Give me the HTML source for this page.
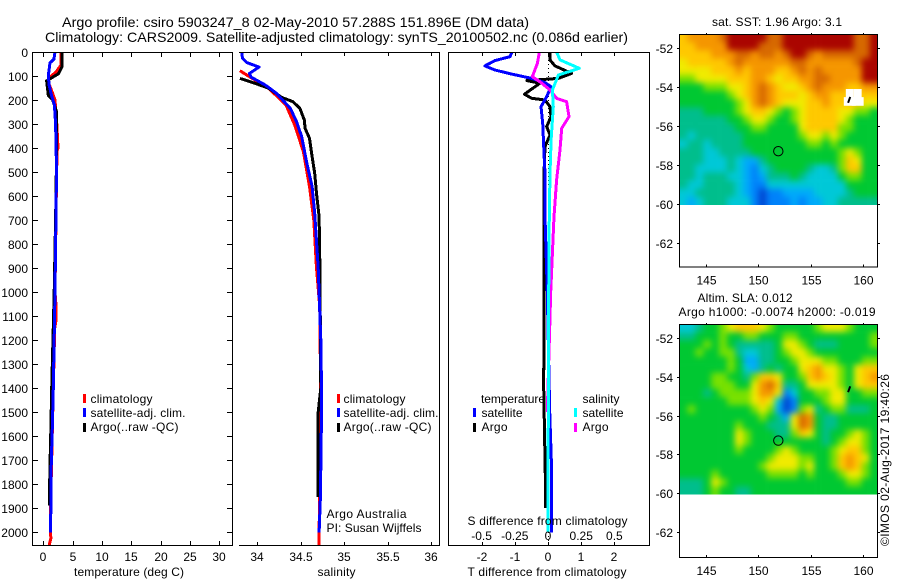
<!DOCTYPE html>
<html>
<head>
<meta charset="utf-8">
<title>Argo profile</title>
<style>
html,body{margin:0;padding:0;background:#fff;width:900px;height:580px;overflow:hidden}
svg{display:block}
text{font-family:"Liberation Sans",sans-serif;font-size:12px;fill:#000}
.ttl{font-size:14px}
</style>
</head>
<body>
<svg id="chart" xmlns="http://www.w3.org/2000/svg" width="900" height="580" viewBox="0 0 900 580">
  <defs>
    <filter id="soft" filterUnits="userSpaceOnUse" x="650" y="0" width="250" height="580" color-interpolation-filters="sRGB">
      <feGaussianBlur in="SourceGraphic" stdDeviation="3.2"/>
    </filter>
    <clipPath id="clip-sst"><rect x="679.5" y="34.5" width="198" height="170.5"/></clipPath>
    <clipPath id="clip-sla"><rect x="679.5" y="324.5" width="198" height="170"/></clipPath>
    <clipPath id="clip-p1"><rect x="33" y="52" width="199" height="493"/></clipPath>
    <clipPath id="clip-p2"><rect x="239" y="52" width="200" height="493"/></clipPath>
    <clipPath id="clip-p3"><rect x="449" y="52" width="200" height="493"/></clipPath>
  </defs>

  <text class="ttl" x="62" y="27" textLength="467" lengthAdjust="spacingAndGlyphs">Argo profile: csiro 5903247_8 02-May-2010 57.288S 151.896E (DM data)</text>
  <text class="ttl" x="45" y="42" textLength="583" lengthAdjust="spacingAndGlyphs">Climatology: CARS2009. Satellite-adjusted climatology: synTS_20100502.nc (0.086d earlier)</text>

  <g id="layer-p1"></g>
  <g id="layer-p2"></g>
  <g id="layer-p3"></g>
  <g id="layer-m1"></g>
  <g id="layer-m2"></g>

  <g>
    <rect x="83" y="394" width="3" height="9" fill="#f00"/>
    <rect x="83" y="408" width="3" height="9" fill="#00f"/>
    <rect x="83" y="423" width="3" height="9" fill="#000"/>
    <text x="90.5" y="403" textLength="62">climatology</text>
    <text x="90.5" y="417" textLength="95">satellite-adj. clim.</text>
    <text x="90.5" y="431" textLength="88">Argo(..raw -QC)</text>
  </g>
  <g>
    <rect x="337" y="394" width="3" height="9" fill="#f00"/>
    <rect x="337" y="408" width="3" height="9" fill="#00f"/>
    <rect x="337" y="423" width="3" height="9" fill="#000"/>
    <text x="343.5" y="403" textLength="62">climatology</text>
    <text x="343.5" y="417" textLength="95">satellite-adj. clim.</text>
    <text x="343.5" y="431" textLength="88">Argo(..raw -QC)</text>
  </g>
  <g>
    <text x="481" y="403" textLength="64">temperature</text>
    <text x="582.5" y="403" textLength="37">salinity</text>
    <rect x="473" y="408" width="3" height="9" fill="#00f"/>
    <rect x="473" y="423" width="3" height="9" fill="#000"/>
    <rect x="574" y="408" width="3" height="9" fill="#0ff"/>
    <rect x="574" y="423" width="3" height="9" fill="#f0f"/>
    <text x="481.5" y="417" textLength="41">satellite</text>
    <text x="481.5" y="431" textLength="26">Argo</text>
    <text x="582.5" y="417" textLength="41">satellite</text>
    <text x="582.5" y="431" textLength="26">Argo</text>
  </g>

  <text x="326.5" y="518" textLength="80">Argo Australia</text>
  <text x="326.5" y="532" textLength="95">PI: Susan Wijffels</text>
  <text x="467.5" y="525" textLength="160">S difference from climatology</text>

  <text x="74" y="576" textLength="110">temperature (deg C)</text>
  <text x="317.5" y="576" textLength="38">salinity</text>
  <text x="467.5" y="576" textLength="159">T difference from climatology</text>

  <text x="712" y="26" textLength="130">sat. SST: 1.96 Argo: 3.1</text>
  <text x="697.5" y="302" textLength="95">Altim. SLA: 0.012</text>
  <text x="678.5" y="316" textLength="197">Argo h1000: -0.0074 h2000: -0.019</text>
  <text transform="translate(889,546) rotate(-90)" x="0" y="0" textLength="172">©IMOS 02-Aug-2017 19:40:26</text>
</svg>

<script>
/* ---------- axis tick values ---------- */
var depthTicks = [0,100,200,300,400,500,600,700,800,900,1000,1100,1200,1300,1400,1500,1600,1700,1800,1900,2000];
var tempTicks = [0,5,10,15,20,25,30];
var salTicks = [34,34.5,35,35.5,36];
var tDiffTicks = [-2,-1,0,1,2];
var sDiffTicks = [-0.5,-0.25,0,0.25,0.5];
var sDiffLabels = ["-0.5","-0.25","0","0.25","0.5"];
var lonTicks = [145,150,155,160];
var latTicks = [-52,-54,-56,-58,-60,-62];

/* ---------- temperature panel ---------- */
var tempClimDepth = [0,55,80,100,120,160,200,300,400,410,500,1000,1050,1120,1150,1400,1800,2000,2025,2054];
var tempClimValue = [3.0,3.0,2.27,1.4,0.75,1.4,2.0,2.3,2.5,2.35,2.27,2.0,2.15,2.15,1.95,1.7,1.33,1.2,1.3,1.0];
var tempArgoDepth = [0,61,90,120,180,200,250,400,600,1000,1400,1600,1750,1890];
var tempArgoValue = [3.2,3.2,2.6,0.57,0.85,1.6,2.27,2.27,2.16,1.85,1.43,1.26,1.1,1.08];
var tempSatDepth = [0,30,45,70,100,140,180,220,300,500,600,1000,1400,1500,1600,1700,1900,2003];
var tempSatValue = [2.0,1.8,1.14,1.0,0.85,1.0,1.4,1.9,2.1,2.27,2.2,2.0,1.7,1.6,1.5,1.36,1.3,1.2];

/* ---------- salinity panel ---------- */
var salClimDepth = [78,105,151,221,304,415,561,700,900,1050,1100,1500,2000,2054];
var salClimValue = [33.8,33.92,34.13,34.33,34.43,34.53,34.6,34.65,34.68,34.715,34.72,34.73,34.71,34.71];
var salArgoDepth = [110,130,151,189,207,235,283,318,360,436,505,589,686,900,1400,1500,1854];
var salArgoValue = [33.8,33.97,34.13,34.28,34.41,34.49,34.54,34.55,34.6,34.63,34.66,34.68,34.71,34.72,34.73,34.7,34.7];
var salSatDepth = [0,26,44,63,89,105,137,172,235,290,353,464,561,672,900,1200,1450,1854,2003];
var salSatValue = [33.82,33.83,33.88,34.02,33.91,33.93,34.09,34.22,34.38,34.45,34.51,34.57,34.63,34.66,34.7,34.73,34.74,34.725,34.71];

/* ---------- difference panel ---------- */
var diffTSatDepth = [0,19,36,58,75,92,110,128,144,186,228,297,422,505,686,1000,1500,1700,2003];
var diffTSatValue = [-1.09,-1.14,-1.6,-1.9,-1.6,-1.09,-0.49,-0.09,0.09,-0.04,-0.21,-0.16,-0.12,-0.09,-0.09,-0.02,0.05,0.1,0.1];
var diffTArgoDepth = [0,33,58,89,110,119,130,176,193,200,228,269,311,346,394,505,686,1000,1400,1854,1900];
var diffTArgoValue = [0.06,0.06,0.21,0.71,0.31,-0.64,-0.24,-0.71,-0.49,-0.09,0.06,0.09,-0.04,0.06,-0.09,-0.12,-0.12,-0.12,-0.13,-0.07,-0.07];
var diffSSatDepth = [0,33,68,96,158,228,367,505,686,1000,1500,2003];
var diffSSatValue = [0.065,0.09,0.236,0.078,0.033,0.04,0.023,0.015,0.01,0.005,0.002,0];
var diffSArgoDepth = [0,47,103,124,158,193,207,269,318,408,533,686,1000,1500];
var diffSArgoValue = [-0.065,-0.08,-0.118,-0.06,0.015,0.065,0.14,0.158,0.103,0.09,0.065,0.045,0.02,-0.005];

/* ---------- map heat values: colour level per cell, -1 = no data ---------- */
var levelColors = ["#0046d2","#0082fa","#00aafa","#00c8d7","#00be8c","#00c832","#78e100","#f0eb00","#ffc800","#f59600","#d76900","#aa0500"];
var sstGrid = [
[8,9,9,9,9,10,11,11,11,11,11,10,10,11,11,11,11,11,11,11,11,11,10,10,11],
[8,8,9,9,9,9,11,11,11,11,10,10,10,11,11,11,11,11,11,11,11,11,10,10,11],
[8,8,8,8,9,9,9,10,10,9,10,10,9,10,11,11,10,9,10,10,10,10,10,10,11],
[7,8,8,8,8,8,9,10,9,9,9,9,9,9,10,10,9,9,9,9,9,9,10,11,11],
[7,7,7,7,8,8,8,9,8,9,9,9,8,8,9,10,9,10,9,9,9,9,9,11,11],
[6,6,7,7,7,7,8,8,8,9,9,8,7,8,8,9,9,10,10,9,9,9,9,11,11],
[5,5,5,6,6,6,7,7,8,9,10,9,8,7,7,8,9,10,9,9,9,8,8,9,9],
[5,5,5,5,5,5,6,7,8,9,10,9,8,8,8,7,8,9,9,8,8,-1,-1,8,8],
[5,5,5,5,5,5,5,6,7,9,10,9,8,7,7,7,8,8,9,8,8,-1,-1,7,7],
[4,4,4,5,5,5,5,6,7,8,8,7,6,5,6,7,8,8,8,8,7,7,6,6,5],
[4,4,4,4,4,4,5,5,6,7,7,6,5,5,6,7,8,8,8,8,7,6,5,5,5],
[4,4,4,4,4,4,4,5,5,6,6,5,5,5,5,7,8,8,8,8,6,6,5,5,5],
[4,3,4,4,4,4,4,4,5,5,5,5,5,5,5,6,7,7,6,7,6,5,5,5,5],
[3,4,4,3,4,4,4,4,5,5,5,5,5,5,5,5,6,6,5,6,5,5,5,5,5],
[4,4,4,3,3,4,4,4,4,5,5,5,5,5,5,5,5,5,5,5,6,7,6,5,5],
[4,4,4,3,3,3,4,3,2,2,4,5,5,5,5,5,5,5,5,5,6,8,7,5,5],
[4,4,3,3,3,3,4,3,2,1,3,4,5,5,5,5,4,3,3,4,6,8,8,5,5],
[4,4,3,4,4,4,3,3,2,1,2,4,4,4,5,4,3,3,3,3,5,6,6,5,5],
[4,3,3,4,4,4,4,3,2,1,1,3,3,3,3,3,3,3,3,3,3,5,5,5,5],
[3,3,4,4,4,4,4,3,2,1,0,1,1,2,2,2,2,3,3,3,3,4,5,5,5],
[3,2,3,4,4,4,3,3,3,1,0,1,1,1,2,1,2,2,3,3,4,4,4,4,4]
];
var slaGrid = [
[3,3,4,5,5,6,7,8,8,8,7,6,5,5,5,5,5,6,7,7,7,6,5,5,5],
[4,4,5,5,5,6,5,5,6,6,5,5,5,6,6,5,5,5,5,5,5,5,5,5,6],
[5,5,5,6,5,6,5,4,4,4,4,4,5,7,7,6,5,4,4,4,5,5,5,5,6],
[5,5,6,5,5,6,6,4,3,3,4,4,5,6,7,7,6,5,5,5,5,5,5,5,5],
[5,5,5,5,5,5,6,5,2,2,4,4,5,5,6,7,7,7,6,6,5,5,5,6,6],
[5,5,5,5,5,5,6,5,3,2,4,5,4,5,5,7,8,9,7,7,6,5,7,8,8],
[5,5,5,5,6,6,5,5,4,6,8,8,7,5,5,6,8,9,8,7,6,5,7,8,9],
[5,5,5,5,6,6,6,5,5,7,9,10,8,4,4,5,7,7,7,7,6,5,7,8,8],
[5,5,5,4,5,6,6,6,6,7,9,9,7,1,3,5,5,6,6,7,7,5,5,6,6],
[5,5,5,5,5,5,6,6,6,7,8,7,3,0,1,5,5,5,6,7,7,5,5,5,5],
[5,6,5,5,5,5,5,5,5,6,7,6,2,0,1,6,7,4,5,6,6,4,4,4,5],
[5,5,5,5,5,5,5,5,5,5,6,5,4,2,7,10,9,5,4,4,5,5,5,5,5],
[5,5,5,5,5,5,5,6,5,5,5,4,4,4,7,10,9,5,4,4,5,5,5,5,5],
[5,5,5,5,5,5,5,7,6,5,5,5,4,4,6,8,7,5,4,5,5,6,7,6,5],
[5,5,5,5,5,5,5,7,6,5,5,5,5,5,5,5,5,5,4,5,6,7,7,6,5],
[5,5,5,5,5,5,5,6,5,5,5,5,6,7,6,5,5,5,5,6,7,8,8,6,5],
[5,5,5,5,5,5,5,5,5,5,5,6,7,7,7,6,6,5,5,6,8,9,8,7,5],
[5,5,5,5,5,5,5,5,5,5,6,7,7,7,7,6,7,5,5,6,8,9,8,6,5],
[5,5,5,5,6,5,5,5,5,5,5,6,6,6,6,5,6,5,5,5,6,7,7,6,5],
[4,4,4,5,7,6,5,5,5,5,5,5,5,5,5,5,5,5,5,5,5,6,6,5,5],
[4,4,4,5,6,5,5,4,4,5,5,5,5,5,5,5,5,5,5,5,5,5,5,5,5]
];
var floatLon = 151.896;
var floatLat = -57.288;
var trackLon = [158.55,158.75];
var trackLat = [-54.8,-54.5];

/* ---------- axis functions ---------- */
function yDepth(d){ return 52 + d * 0.24; }
function xTemp(t){ return 43.3 + t * 5.867; }
function xSal(s){ return 257.3 + (s - 34) * 87; }
function xTDiff(t){ return 548 + t * 33.2; }
function xSDiff(s){ return 548 + s * 132.8; }
function xLon(lon){ return 706 + (lon - 145) * 10.49; }
function yLatTop(lat){ return 48.3 + (-52 - lat) * 19.45; }
function yLatBottom(lat){ return 337.7 + (-52 - lat) * 19.45; }

var NS = "http://www.w3.org/2000/svg";
function mk(parent, tag, attrs, txt){
  var el = document.createElementNS(NS, tag);
  for (var k in attrs) el.setAttribute(k, attrs[k]);
  if (txt !== undefined) el.textContent = txt;
  parent.appendChild(el);
  return el;
}
function axisLine(parent, x1, y1, x2, y2, name){
  var el = mk(parent, "line", {x1:x1, y1:y1, x2:x2, y2:y2, stroke:"#000", "stroke-width":1, "shape-rendering":"crispEdges"});
  
  
  return el;
}
function tickLabel(parent, x, y, anchor, s, name){
  var el = mk(parent, "text", {x:x, y:y, "text-anchor":anchor}, s);
  
  
  return el;
}
function series(parent, depths, values, xf, color, clipId, name){
  var pts = [];
  for (var i = 0; i < depths.length; i++) pts.push(xf(values[i]).toFixed(1) + "," + yDepth(depths[i]).toFixed(1));
  var el = mk(parent, "polyline", {points:pts.join(" "), fill:"none", stroke:color, "stroke-width":3, "stroke-linejoin":"round", "shape-rendering":"crispEdges", "clip-path":"url(#" + clipId + ")"});
  
  
  return el;
}

/* ---------- panel 1: temperature ---------- */
var p1 = document.getElementById("layer-p1");
series(p1, tempClimDepth, tempClimValue, xTemp, "#f00", "clip-p1", "temperature-climatology-line");
series(p1, tempArgoDepth, tempArgoValue, xTemp, "#000", "clip-p1", "temperature-argo-line");
series(p1, tempSatDepth, tempSatValue, xTemp, "#00f", "clip-p1", "temperature-satellite-line");
axisLine(p1, 32.5, 52, 32.5, 545, "temperature-left-axis");
axisLine(p1, 232.5, 52, 232.5, 545, "temperature-right-axis");
axisLine(p1, 32, 52.5, 233, 52.5, "temperature-top-axis");
axisLine(p1, 32, 545.5, 233, 545.5, "temperature-bottom-axis");
depthTicks.forEach(function(d){
  var y = Math.round(yDepth(d)) + 0.5;
  axisLine(p1, 33, y, 38, y, "depth-tick");
  axisLine(p1, 227, y, 232, y, "depth-tick");
  tickLabel(p1, 28, y + 4.5, "end", String(d), "depth-tick-label");
});
tempTicks.forEach(function(t){
  var x = Math.round(xTemp(t)) + 0.5;
  axisLine(p1, x, 53, x, 57, "temperature-tick");
  axisLine(p1, x, 541, x, 545, "temperature-tick");
  tickLabel(p1, x - 0.5, 561, "middle", String(t), "temperature-tick-label");
});

/* ---------- panel 2: salinity ---------- */
var p2 = document.getElementById("layer-p2");
series(p2, salClimDepth, salClimValue, xSal, "#f00", "clip-p2", "salinity-climatology-line");
series(p2, salArgoDepth, salArgoValue, xSal, "#000", "clip-p2", "salinity-argo-line");
series(p2, salSatDepth, salSatValue, xSal, "#00f", "clip-p2", "salinity-satellite-line");
axisLine(p2, 439.5, 52, 439.5, 545, "salinity-right-axis");
axisLine(p2, 239, 52.5, 440, 52.5, "salinity-top-axis");
axisLine(p2, 239, 545.5, 440, 545.5, "salinity-bottom-axis");
salTicks.forEach(function(s){
  var x = Math.round(xSal(s)) + 0.5;
  axisLine(p2, x, 53, x, 56, "salinity-tick");
  axisLine(p2, x, 542, x, 545, "salinity-tick");
  tickLabel(p2, x - 0.5, 561, "middle", String(s), "salinity-tick-label");
});

/* ---------- panel 3: differences ---------- */
var p3 = document.getElementById("layer-p3");
var zero = axisLine(p3, 548.5, 52, 548.5, 545, "zero-difference-line");
zero.setAttribute("stroke-dasharray", "1 3");
series(p3, diffTArgoDepth, diffTArgoValue, xTDiff, "#000", "clip-p3", "t-difference-argo-line");
series(p3, diffTSatDepth, diffTSatValue, xTDiff, "#00f", "clip-p3", "t-difference-satellite-line");
series(p3, diffSArgoDepth, diffSArgoValue, xSDiff, "#f0f", "clip-p3", "s-difference-argo-line");
series(p3, diffSSatDepth, diffSSatValue, xSDiff, "#0ff", "clip-p3", "s-difference-satellite-line");
axisLine(p3, 448.5, 52, 448.5, 545, "difference-left-axis");
axisLine(p3, 649.5, 52, 649.5, 545, "difference-right-axis");
axisLine(p3, 448, 52.5, 650, 52.5, "difference-top-axis");
axisLine(p3, 448, 545.5, 650, 545.5, "difference-bottom-axis");
tDiffTicks.forEach(function(t){
  var x = Math.round(xTDiff(t)) + 0.5;
  axisLine(p3, x, 53, x, 56, "t-difference-tick");
  axisLine(p3, x, 542, x, 545, "t-difference-tick");
  tickLabel(p3, x - 0.5, 561, "middle", String(t), "t-difference-tick-label");
});
sDiffTicks.forEach(function(s, i){
  tickLabel(p3, xSDiff(s), 540, "middle", sDiffLabels[i], "s-difference-tick-label");
});

/* ---------- maps ---------- */
function drawMap(layerId, grid, yTop, yHeatBottom, yAxisBottom, yLat, clipId, prefix){
  var layer = document.getElementById(layerId);
  var left = 679.5, w = 198;
  var cols = grid[0].length, rows = grid.length;
  var cw = w / cols, ch = (yHeatBottom - yTop) / rows;
  var bleed = 14;
  var clipG = mk(layer, "g", {"clip-path":"url(#" + clipId + ")"});
  
  
  var blurG = mk(clipG, "g", {filter:"url(#soft)"});
  
  
  grid.forEach(function(row, r){
    row.forEach(function(v, c){
      var level = v < 0 ? 8 : v;
      var x0 = left + c * cw - (c === 0 ? bleed : 0);
      var x1 = left + (c + 1) * cw + (c === cols - 1 ? bleed : 0.3);
      var y0 = yTop + r * ch - (r === 0 ? bleed : 0);
      var y1 = yTop + (r + 1) * ch + (r === rows - 1 ? bleed : 0.3);
      var cell = mk(blurG, "rect", {x:x0.toFixed(2), y:y0.toFixed(2), width:(x1 - x0).toFixed(2), height:(y1 - y0).toFixed(2), fill:levelColors[level]});
      
      
    });
  });
  grid.forEach(function(row, r){
    row.forEach(function(v, c){
      if (v < 0) {
        var lower = r > 0 && grid[r - 1][c] < 0;
        var pad = lower ? 2 : 0;
        var gap = mk(clipG, "rect", {x:(left + c * cw - pad).toFixed(2), y:(yTop + r * ch - 2).toFixed(2), width:(cw + pad * 2).toFixed(2), height:(ch + 0.5).toFixed(2), fill:"#fff"});
        
        
      }
    });
  });
  var pts = trackLon.map(function(lon, i){ return xLon(lon).toFixed(1) + "," + yLat(trackLat[i]).toFixed(1); }).join(" ");
  var track = mk(layer, "polyline", {points:pts, fill:"none", stroke:"#000", "stroke-width":2});
  
  
  var marker = mk(layer, "circle", {cx:xLon(floatLon).toFixed(1), cy:yLat(floatLat).toFixed(1), r:4.7, fill:"none", stroke:"#000", "stroke-width":1});
  
  

  axisLine(layer, 679.5, yTop, 679.5, yAxisBottom, prefix + "-left-axis");
  axisLine(layer, 877.5, yTop, 877.5, yAxisBottom, prefix + "-right-axis");
  axisLine(layer, 679, yTop + 0.5, 878, yTop + 0.5, prefix + "-top-axis");
  axisLine(layer, 679, yAxisBottom + 0.5, 878, yAxisBottom + 0.5, prefix + "-bottom-axis");
  lonTicks.forEach(function(lon){
    var x = Math.round(xLon(lon)) + 0.5;
    axisLine(layer, x, yTop - 1, x, yTop + 1, prefix + "-longitude-tick");
    axisLine(layer, x, yAxisBottom - 2, x, yAxisBottom, prefix + "-longitude-tick");
    tickLabel(layer, x, yAxisBottom + 18, "middle", String(lon), prefix + "-longitude-label");
  });
  latTicks.forEach(function(lat){
    var y = Math.round(yLat(lat)) + 0.5;
    axisLine(layer, 677, y, 680, y, prefix + "-latitude-tick");
    axisLine(layer, 877, y, 880, y, prefix + "-latitude-tick");
    tickLabel(layer, 673, y + 4.5, "end", String(lat), prefix + "-latitude-label");
  });
}
drawMap("layer-m1", sstGrid, 34, 205, 266.5, yLatTop, "clip-sst", "sst");
drawMap("layer-m2", slaGrid, 324, 494.5, 557, yLatBottom, "clip-sla", "sla");
</script>
</body>
</html>
